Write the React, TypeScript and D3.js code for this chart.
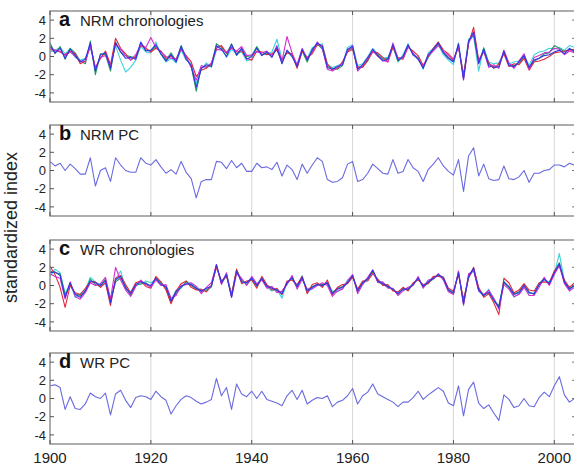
import React, { useEffect, useRef } from "react";
import * as d3 from "d3";

const firstYear = 1900;
const xTicks = [1900, 1920, 1940, 1960, 1980, 2000];
const yTicks = [-4, -2, 0, 2, 4];

// panel a - NRM chronologies
const nrmBlue = [
  1.2, 0.4, 0.9, -0.2, 0.8, 0.1, -0.6, -0.3, 1.5, -1.6,
  0.2, 0.4, -1.3, 1.5, 0.5, -0.2, -0.1, -0.3, 1.6, 0.6,
  0.7, 1.3, 0.3, -0.5, 0.2, -0.6, 1.1, -0.3, -1.0, -3.4,
  -1.3, -0.9, -1.1, 1.2, 0.8, 0.0, 1.3, 0.2, 0.9, -0.3,
  0.0, 0.9, 0.1, 0.5, -0.1, 1.0, -0.8, 0.7, 0.0, -1.1,
  0.8, -0.4, 0.7, 1.5, 1.1, -1.2, -1.4, -1.1, -0.9, 0.8,
  1.1, -1.4, -0.9, -0.2, 0.8, 0.1, -0.5, -0.3, 1.3, -0.4,
  0.0, 1.3, 0.2, -0.3, -1.3, 0.2, 0.8, 1.5, 0.4, -0.2,
  -0.6, 1.4, -2.5, 1.7, 2.7, -0.8, 0.8, -1.0, -1.2, -1.1,
  0.6, -1.0, -1.1, -0.6, 0.1, -1.2, -0.4, -0.2, 0.1, 0.2,
  0.5, 0.7, 0.3, 0.9, 0.5,
];
const nrmRed = [
  0.8, 0.6, 0.5, 0.2, 0.6, 0.3, -0.8, -0.5, 1.2, -1.2,
  -0.2, 0.6, -0.9, 2.0, 0.9, 0.3, -0.4, 0.0, 1.2, 0.9,
  0.5, 0.9, 0.6, -0.2, 0.0, -0.3, 0.8, 0.1, -0.6, -2.2,
  -1.5, -1.3, -0.8, 0.9, 1.2, 0.4, 1.0, 0.5, 0.6, -0.2,
  -0.4, 0.6, 0.5, 0.2, 0.3, 0.7, -0.4, 0.4, 0.3, -1.3,
  0.6, -0.1, 0.3, 1.3, 1.2, -0.8, -1.5, -1.3, -0.6, 0.5,
  0.8, -1.1, -1.2, -0.4, 0.5, 0.4, -0.1, -0.6, 1.0, -0.1,
  -0.3, 1.0, 0.6, 0.1, -1.0, 0.0, 0.9, 1.6, 0.7, 0.3,
  -0.3, 1.0, -2.0, 1.4, 3.2, -0.4, 0.5, -0.7, -1.3, -0.8,
  0.3, -1.1, -0.8, -0.9, -0.2, -1.5, -0.6, -0.5, -0.3, 0.0,
  0.4, 0.5, 0.6, 0.7, 0.8,
];
const nrmMagenta = [
  1.0, 0.7, 0.6, 0.1, 0.5, 0.0, -0.5, -0.6, 1.2, -1.3,
  -0.1, 0.1, -1.0, 1.3, 0.8, 0.1, -0.4, 0.2, 1.3, 1.0,
  2.1, 1.0, 0.5, 0.0, -0.2, -0.3, 0.9, 0.0, -1.2, -2.6,
  -1.0, -1.2, -0.7, 0.8, 0.7, 0.5, 0.9, 0.6, 1.1, 0.1,
  0.2, 0.5, 0.4, 0.6, 0.0, 1.2, -0.5, 2.2, 0.4, -0.9,
  0.9, -0.3, 0.5, 1.6, 0.9, -1.4, -1.6, -1.2, -0.7, 0.6,
  1.2, -1.6, -1.0, -0.1, 0.6, 0.0, -0.4, -0.6, 1.5, -0.2,
  -0.2, 1.1, 0.4, -0.3, -1.1, 0.1, 0.6, 1.2, 0.6, 0.1,
  -0.4, 1.2, -2.6, 1.5, 2.6, -0.5, 0.6, -1.2, -0.9, -1.3,
  0.7, -0.7, -1.3, -0.5, 0.3, -1.4, -0.1, 0.1, 0.4, 0.5,
  0.9, 0.8, 0.2, 0.6, 0.4,
];
const nrmCyan = [
  0.5, 0.7, 1.0, 0.3, 0.9, -0.1, -0.4, -0.2, 1.0, -1.4,
  -0.2, 0.5, -1.0, 1.2, -0.4, -1.7, -1.2, -0.4, 1.1, 0.5,
  0.4, 1.6, 0.2, -0.6, -0.2, -0.7, 0.7, -0.4, -0.8, -3.0,
  -1.4, -0.7, -1.2, 0.7, 0.9, -0.1, 0.8, 0.3, 0.5, -0.5,
  -0.3, 1.0, 0.2, 0.3, 0.5, 1.9, -0.3, 0.5, 0.0, -1.0,
  0.7, -0.2, 1.0, 1.2, 1.4, -0.9, -1.2, -1.0, -0.8, 1.0,
  1.3, -1.0, -0.8, 0.0, 0.9, 0.3, -0.2, -0.1, 1.1, -0.6,
  0.2, 1.4, 0.1, 0.0, -1.4, 0.4, 0.9, 1.3, 0.2, -0.4,
  -0.9, 1.5, -2.2, 1.9, 2.2, -1.6, 1.0, -0.6, -0.8, -0.7,
  0.4, -0.8, -0.6, -0.5, 0.2, -1.0, 0.2, 0.5, 0.6, 0.9,
  0.8, 1.0, 0.7, 1.2, 1.0,
];
const nrmGreen = [
  1.5, 0.3, 1.1, -0.3, 0.9, 0.4, -0.5, -0.8, 1.7, -2.0,
  0.3, 0.2, -1.6, 1.6, 0.5, 0.1, 0.0, -0.2, 1.5, 0.7,
  0.6, 1.1, 0.3, -0.4, 0.4, -0.5, 1.2, -0.1, -1.1, -3.8,
  -1.2, -1.1, -0.9, 1.4, 1.0, 0.3, 1.4, 0.1, 0.8, 0.0,
  0.1, 1.1, 0.2, 0.4, 0.2, 0.8, -0.7, 0.6, 0.2, -1.2,
  0.6, -0.6, 0.8, 1.4, 0.8, -1.1, -1.3, -1.4, -1.0, 0.7,
  0.9, -1.3, -1.1, -0.5, 0.7, 0.2, -0.3, -0.2, 1.2, -0.5,
  -0.1, 1.2, 0.3, -0.2, -1.2, -0.1, 0.7, 1.4, 0.5, -0.1,
  -0.5, 1.1, -2.3, 1.6, 2.4, -0.7, 0.9, -0.8, -1.1, -1.2,
  0.5, -0.9, -1.0, -0.8, 0.0, -1.3, -0.5, -0.2, 0.3, 0.4,
  1.2, 0.9, 0.5, 0.8, 0.6,
];

// panel b - NRM PC
const nrmPC = [
  1.0, 0.5, 0.8, 0.0, 0.7, 0.2, -0.4, -0.4, 1.4, -1.7,
  0.0, 0.3, -1.2, 1.4, 0.6, 0.0, -0.2, -0.2, 1.4, 0.8,
  0.6, 1.2, 0.4, -0.3, 0.1, -0.4, 1.0, -0.2, -0.9, -3.0,
  -1.2, -1.0, -1.0, 1.0, 0.9, 0.2, 1.1, 0.3, 0.8, -0.1,
  -0.1, 0.8, 0.3, 0.4, 0.1, 0.9, -0.6, 0.6, 0.1, -1.0,
  0.7, -0.3, 0.6, 1.4, 1.0, -1.0, -1.3, -1.2, -0.8, 0.7,
  1.0, -1.2, -1.0, -0.3, 0.7, 0.2, -0.3, -0.4, 1.2, -0.3,
  -0.1, 1.2, 0.3, -0.1, -1.2, 0.1, 0.7, 1.4, 0.5, -0.1,
  -0.5, 1.2, -2.3, 1.6, 2.5, -0.6, 0.7, -0.9, -1.1, -1.0,
  0.5, -0.9, -1.0, -0.7, 0.0, -1.3, -0.3, -0.3, 0.0, 0.1,
  0.6, 0.6, 0.4, 0.8, 0.6,
];

// panel c - WR chronologies
const wrBlue = [
  1.4, 1.5, 1.1, -1.3, 0.3, -1.0, -1.3, -0.6, 0.5, 0.3,
  0.0, 0.5, -1.9, 0.6, 1.0, -0.3, -0.9, 0.1, 0.4, 0.2,
  0.0, 0.8, 0.1, -0.1, -1.7, -0.7, -0.1, 0.2, 0.1, -0.3,
  -0.6, -0.3, -0.1, 2.3, 0.3, 1.2, -1.3, 1.6, 0.4, 0.3,
  0.8, 0.0, 0.8, -0.1, -0.3, -0.5, -0.9, 0.3, 0.9, -0.1,
  0.9, -0.6, -0.2, 0.1, 0.0, 0.3, -0.9, -0.4, -0.2, 0.3,
  1.1, -0.6, 0.3, 0.7, 1.7, 0.5, 0.2, -0.1, -0.4, -0.9,
  -0.4, -0.4, 0.1, 0.8, -0.1, 0.4, 0.8, 1.2, 0.8, -0.5,
  -0.8, 1.4, -2.0, 1.0, 1.9, -0.5, -1.1, -0.7, -1.6, -2.4,
  0.4, -0.1, -1.0, -0.8, 0.0, -0.8, -0.9, 0.1, 0.7, 0.2,
  1.4, 2.4, 0.4, -0.4, 0.0,
];
const wrRed = [
  2.1, 1.2, -0.2, -2.4, 0.0, -0.8, -1.0, -0.3, 0.4, 0.4,
  -0.2, 0.3, -2.2, 0.8, 1.1, 0.1, -0.8, 0.3, 0.5, -0.1,
  -0.3, 1.0, 0.4, -0.5, -2.0, -0.6, 0.2, 0.5, -0.2, -0.5,
  -0.4, -0.7, 0.0, 2.0, 0.5, 1.0, -1.0, 1.8, 0.2, 0.5,
  0.6, -0.3, 1.0, 0.1, -0.5, -0.3, -1.0, 0.5, 0.6, 0.1,
  1.0, -0.9, 0.1, 0.3, -0.2, 0.6, -1.0, -0.2, 0.1, 0.2,
  0.9, -0.4, 0.5, 0.5, 1.3, 0.7, 0.0, 0.1, -0.6, -0.7,
  -0.2, -0.6, 0.3, 0.6, 0.1, 0.2, 1.0, 1.0, 0.9, -0.3,
  -0.6, 1.2, -1.5, 0.8, 2.0, -0.2, -1.3, -0.9, -1.9, -3.2,
  0.8, 0.3, -0.8, -0.5, 0.2, -0.5, -0.6, 0.3, 0.4, 0.3,
  1.6, 2.1, 0.6, -0.2, 0.3,
];
const wrMagenta = [
  1.3, 1.0, 0.8, -1.5, 0.4, -1.2, -1.5, -0.8, 0.3, 0.0,
  0.2, 0.9, -1.5, 2.0, 0.6, -0.5, -1.2, -0.1, 0.6, 0.1,
  -0.2, 0.6, 0.0, 0.1, -1.4, -1.1, 0.0, 0.1, 0.3, -0.1,
  -0.9, -0.2, 0.3, 2.3, 0.1, 1.4, -1.3, 1.3, 0.8, 0.0,
  1.0, 0.2, 0.6, -0.3, -0.1, -0.8, -0.6, 0.1, 1.1, -0.4,
  0.7, -0.4, -0.4, 0.0, 0.3, 0.0, -1.2, -0.6, -0.4, 0.5,
  1.2, -0.9, 0.1, 0.9, 1.7, 0.3, 0.4, -0.3, -0.3, -1.1,
  -0.6, -0.2, 0.0, 1.0, -0.3, 0.6, 0.7, 1.3, 0.6, -0.7,
  -1.0, 1.6, -2.2, 1.3, 1.6, -0.6, -1.0, -0.5, -1.4, -2.6,
  0.1, -0.4, -1.2, -1.0, -0.2, -1.1, -1.1, -0.2, 0.9, 0.0,
  1.2, 2.2, 0.2, -0.6, -0.2,
];
const wrCyan = [
  1.0, 1.8, 1.4, -0.9, 0.3, -1.3, -0.9, -0.5, 0.9, 0.4,
  0.1, 0.5, -1.6, 0.7, 1.6, -0.3, -0.7, 0.2, 0.1, 0.5,
  0.3, 0.7, 0.4, -0.4, -1.6, -0.5, -0.3, 0.5, 0.2, -0.2,
  -0.5, -0.6, -0.2, 2.1, 0.4, 1.3, -0.9, 1.5, 0.4, 0.3,
  0.9, 0.1, 0.9, -0.2, -0.6, -0.4, -1.4, 0.4, 0.7, -0.2,
  1.1, -0.8, -0.3, 0.2, -0.1, 0.4, -0.6, -0.7, -0.3, 0.6,
  1.0, -0.4, 0.2, 0.6, 1.5, 0.6, 0.3, 0.0, -0.5, -0.8,
  -0.5, -0.3, 0.2, 0.7, 0.0, 0.5, 0.9, 1.1, 0.8, -0.4,
  -0.7, 1.3, -1.7, 1.1, 1.9, -0.6, -1.2, -0.4, -1.8, -2.2,
  0.5, -0.3, -1.3, -0.9, 0.1, -0.9, -0.8, 0.0, 0.6, 0.4,
  1.3, 3.5, 0.5, -0.5, 0.1,
];
const wrGreen = [
  1.6, 1.4, 1.3, -1.0, 0.0, -0.9, -1.1, -0.7, 0.7, 0.1,
  -0.1, 0.7, -1.7, 0.4, 0.8, -0.1, -1.1, 0.0, 0.2, 0.3,
  -0.2, 0.9, 0.3, -0.3, -1.8, -0.9, -0.2, 0.4, 0.0, -0.4,
  -0.7, -0.5, 0.0, 2.2, 0.2, 1.1, -1.1, 1.7, 0.6, 0.1,
  0.7, -0.1, 0.7, 0.0, -0.2, -0.6, -0.7, 0.2, 0.8, -0.2,
  0.8, -0.5, -0.1, 0.1, 0.1, 0.2, -0.8, -0.3, -0.1, 0.3,
  1.1, -0.7, 0.4, 0.8, 1.5, 0.4, 0.1, -0.2, -0.4, -1.0,
  -0.3, -0.5, 0.1, 0.9, -0.2, 0.3, 0.7, 1.2, 0.9, -0.6,
  -0.9, 1.5, -2.0, 0.9, 1.7, -0.4, -1.0, -0.8, -1.5, -2.3,
  0.3, -0.2, -0.9, -0.7, 0.0, -0.7, -1.0, 0.2, 0.8, 0.1,
  1.5, 2.5, 0.3, -0.3, 0.0,
];

// panel d - WR PC
const wrPC = [
  1.4, 1.5, 1.2, -1.2, 0.2, -1.1, -1.2, -0.6, 0.6, 0.2,
  0.0, 0.6, -1.8, 0.5, 0.9, -0.2, -1.0, 0.1, 0.3, 0.2,
  -0.1, 0.8, 0.2, -0.2, -1.7, -0.8, -0.1, 0.3, 0.1, -0.3,
  -0.6, -0.4, -0.1, 2.2, 0.3, 1.2, -1.2, 1.6, 0.5, 0.2,
  0.8, 0.0, 0.8, -0.1, -0.3, -0.5, -0.8, 0.3, 0.9, -0.1,
  0.9, -0.6, -0.2, 0.1, 0.0, 0.3, -0.9, -0.4, -0.2, 0.3,
  1.1, -0.6, 0.3, 0.7, 1.6, 0.5, 0.2, -0.1, -0.4, -0.9,
  -0.4, -0.4, 0.1, 0.8, -0.1, 0.4, 0.8, 1.2, 0.8, -0.5,
  -0.8, 1.4, -1.9, 1.0, 1.8, -0.5, -1.1, -0.7, -1.6, -2.4,
  0.4, -0.1, -1.0, -0.8, 0.0, -0.8, -0.9, 0.1, 0.7, 0.2,
  1.4, 2.4, 0.4, -0.4, 0.0,
];

const colors = {
  cyan: "#3dd3da",
  green: "#22985a",
  red: "#e0283c",
  magenta: "#d22fd2",
  blue: "#3434e6",
  pc: "#6a6ae0",
};

const panels = [
  {
    letter: "a",
    title: "NRM chronologies",
    series: [
      { values: nrmCyan, color: colors.cyan },
      { values: nrmGreen, color: colors.green },
      { values: nrmRed, color: colors.red },
      { values: nrmMagenta, color: colors.magenta },
      { values: nrmBlue, color: colors.blue },
    ],
  },
  { letter: "b", title: "NRM PC", series: [{ values: nrmPC, color: colors.pc }] },
  {
    letter: "c",
    title: "WR chronologies",
    series: [
      { values: wrCyan, color: colors.cyan },
      { values: wrGreen, color: colors.green },
      { values: wrRed, color: colors.red },
      { values: wrMagenta, color: colors.magenta },
      { values: wrBlue, color: colors.blue },
    ],
  },
  { letter: "d", title: "WR PC", series: [{ values: wrPC, color: colors.pc }] },
];

const W = 574;
const H = 467;
const left = 50;
const right = 577; // axis runs past the image edge, as in the original figure
const panelTops = [11, 125, 240, 353];
const panelH = 91;
const font = "Arial, 'Liberation Sans', Helvetica, sans-serif";

export default function App() {
  const svgRef = useRef(null);

  useEffect(() => {
    const svg = d3.select(svgRef.current);
    svg.selectAll("*").remove();

    const x = d3.scaleLinear().domain([1900, 2004.5]).range([left, right]);

    panels.forEach((p, i) => {
      const top = panelTops[i];
      const y = d3.scaleLinear().domain([-5, 5]).range([top + panelH, top]);
      const g = svg.append("g");

      // grid
      g.selectAll(".grid")
        .data(xTicks.slice(1))
        .join("line")
        .attr("x1", (d) => x(d))
        .attr("x2", (d) => x(d))
        .attr("y1", top)
        .attr("y2", top + panelH)
        .attr("stroke", "#d6d6d6")
        .attr("stroke-width", 1);

      // series
      const line = d3
        .line()
        .x((d, k) => x(firstYear + k))
        .y((d) => y(d));
      p.series.forEach((s) => {
        g.append("path")
          .datum(s.values)
          .attr("d", line)
          .attr("fill", "none")
          .attr("stroke", s.color)
          .attr("stroke-width", 1.1)
          .attr("stroke-linejoin", "round");
      });

      // frame
      g.append("rect")
        .attr("x", left)
        .attr("y", top)
        .attr("width", right - left)
        .attr("height", panelH)
        .attr("fill", "none")
        .attr("stroke", "#8a8a8a")
        .attr("stroke-width", 1.4);

      // x ticks (inside, top and bottom)
      xTicks.forEach((t) => {
        g.append("line")
          .attr("x1", x(t)).attr("x2", x(t))
          .attr("y1", top).attr("y2", top + 4)
          .attr("stroke", "#555");
        g.append("line")
          .attr("x1", x(t)).attr("x2", x(t))
          .attr("y1", top + panelH - 4).attr("y2", top + panelH)
          .attr("stroke", "#555");
      });

      // y ticks (inside, both sides) and labels
      yTicks.forEach((t) => {
        g.append("line")
          .attr("x1", left).attr("x2", left + 4)
          .attr("y1", y(t)).attr("y2", y(t))
          .attr("stroke", "#555");
        g.append("line")
          .attr("x1", right - 5).attr("x2", right)
          .attr("y1", y(t)).attr("y2", y(t))
          .attr("stroke", "#777");
        g.append("text")
          .attr("x", left - 4)
          .attr("y", y(t))
          .attr("dy", "0.36em")
          .attr("text-anchor", "end")
          .style("font-family", font)
          .style("font-size", "13px")
          .attr("fill", "#222")
          .text(t);
      });

      // panel label
      g.append("text")
        .attr("x", left + 9)
        .attr("y", top + 15)
        .style("font-family", font)
        .style("font-size", "20px")
        .style("font-weight", "bold")
        .attr("fill", "#111")
        .text(p.letter);
      g.append("text")
        .attr("x", left + 30)
        .attr("y", top + 15)
        .style("font-family", font)
        .style("font-size", "15px")
        .attr("fill", "#222")
        .text(p.title);

      if (i === panels.length - 1) {
        xTicks.forEach((t) => {
          g.append("text")
            .attr("x", x(t))
            .attr("y", top + panelH + 19)
            .attr("text-anchor", "middle")
            .style("font-family", font)
            .style("font-size", "15px")
            .attr("fill", "#222")
            .text(t);
        });
      }
    });

    svg.append("text")
      .attr("transform", `translate(17, ${(panelTops[0] + panelTops[3] + panelH) / 2}) rotate(-90)`)
      .attr("text-anchor", "middle")
      .style("font-family", font)
      .style("font-size", "18px")
      .attr("fill", "#222")
      .text("standardized index");
  }, []);

  return (
    <svg
      ref={svgRef}
      width={W}
      height={H}
      style={{ position: "fixed", left: 0, top: 0, background: "white", display: "block" }}
    />
  );
}
